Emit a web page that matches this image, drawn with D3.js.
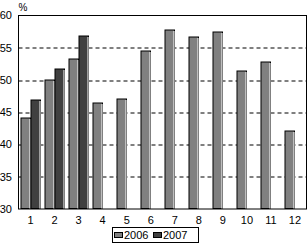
<!DOCTYPE html>
<html>
<head>
<meta charset="utf-8">
<script src="https://cdn.jsdelivr.net/npm/d3@7"></script>
<style>
  body { margin: 0; background: #fff; }
  text { font-family: "Liberation Sans", Arial, sans-serif; fill: #000; }
</style>
</head>
<body>
<div class="chart"></div>
<script>
// data
const months = ['1','2','3','4','5','6','7','8','9','10','11','12'];
const values2006 = [44.2, 50.1, 53.3, 46.5, 47.1, 54.5, 57.8, 56.8, 57.5, 51.4, 52.9, 42.2];
const values2007 = [47.0, 51.8, 56.9, null, null, null, null, null, null, null, null, null];
const seriesNames = ['2006', '2007'];
const yTicks = [30, 35, 40, 45, 50, 55, 60];

const SVGWIDTH = 308;
const SVGHEIGHT = 243;
const MARGIN = {top: 15.5, right: 1, bottom: 34, left: 18.5};
const W = SVGWIDTH - MARGIN.left - MARGIN.right;
const H = SVGHEIGHT - MARGIN.top - MARGIN.bottom;

let svg = d3.select('.chart').append('svg')
  .attr('width', SVGWIDTH)
  .attr('height', SVGHEIGHT);

const g = svg.append('g').attr('transform', `translate(${MARGIN.left}, ${MARGIN.top})`);

let x = d3.scaleBand().domain(months).range([0, W]).paddingInner(0).paddingOuter(0);
let y = d3.scaleLinear().domain([30, 60]).range([H, 0]);
const colors = {'2006': '#808080', '2007': '#404040'};

// dashed gridlines
g.selectAll('.grid').data(yTicks.slice(1, -1)).enter().append('line')
  .attr('x1', 0).attr('x2', W)
  .attr('y1', d => Math.round(y(d)) + 0.5).attr('y2', d => Math.round(y(d)) + 0.5)
  .attr('stroke', '#000').attr('stroke-dasharray', '4,3');

// bars
const barW = 10.5;
const rows = [];
months.forEach((m, i) => {
  rows.push({m: m, s: '2006', v: values2006[i], k: 0});
  if (values2007[i] != null) rows.push({m: m, s: '2007', v: values2007[i], k: 1});
});

const bars = g.selectAll('.bar').data(rows).enter().append('g');
bars.append('rect')
  .attr('x', d => Math.round(x(d.m) + 1.5 + d.k * barW) + 0.5)
  .attr('y', d => Math.round(y(d.v)) + 0.5)
  .attr('width', barW - 1)
  .attr('height', d => H - Math.round(y(d.v)) - 1)
  .attr('fill', d => colors[d.s])
  .attr('stroke', '#000');
// light edge on the right of each bar
bars.append('line')
  .attr('x1', d => Math.round(x(d.m) + 1.5 + d.k * barW) + barW - 1)
  .attr('x2', d => Math.round(x(d.m) + 1.5 + d.k * barW) + barW - 1)
  .attr('y1', d => Math.round(y(d.v)) + 1.5)
  .attr('y2', H)
  .attr('stroke', '#fff');

// frame
g.append('rect').attr('x', 0).attr('y', 0).attr('width', W - 0.5).attr('height', H)
  .attr('fill', 'none').attr('stroke', '#000');

// axes (labels only)
g.selectAll('.ylab').data(yTicks).enter().append('text')
  .attr('x', -6.5).attr('y', d => y(d)).attr('dy', '0.35em')
  .attr('text-anchor', 'end').style('font-size', '11px')
  .text(d => d);

g.selectAll('.xlab').data(months).enter().append('text')
  .attr('x', d => x(d) + x.bandwidth() / 2).attr('y', H + 11).attr('dy', '0.35em')
  .attr('text-anchor', 'middle').style('font-size', '11px')
  .text(d => d);

svg.append('text').attr('x', 18.5).attr('y', 11).style('font-size', '10px').text('%');

// legend
const lg = svg.append('g').attr('transform', 'translate(112, 227)');
lg.append('rect').attr('x', 0.5).attr('y', 0.5).attr('width', 86).attr('height', 15)
  .attr('fill', '#fff').attr('stroke', '#000');
seriesNames.forEach((s, i) => {
  const ox = 2.5 + i * 39;
  lg.append('rect').attr('x', ox).attr('y', 5.5).attr('width', 8).attr('height', 5)
    .attr('fill', colors[s]).attr('stroke', '#000');
  lg.append('text').attr('x', ox + 9.5).attr('y', 8).attr('dy', '0.35em')
    .style('font-size', '11px').text(s);
});
</script>
</body>
</html>
